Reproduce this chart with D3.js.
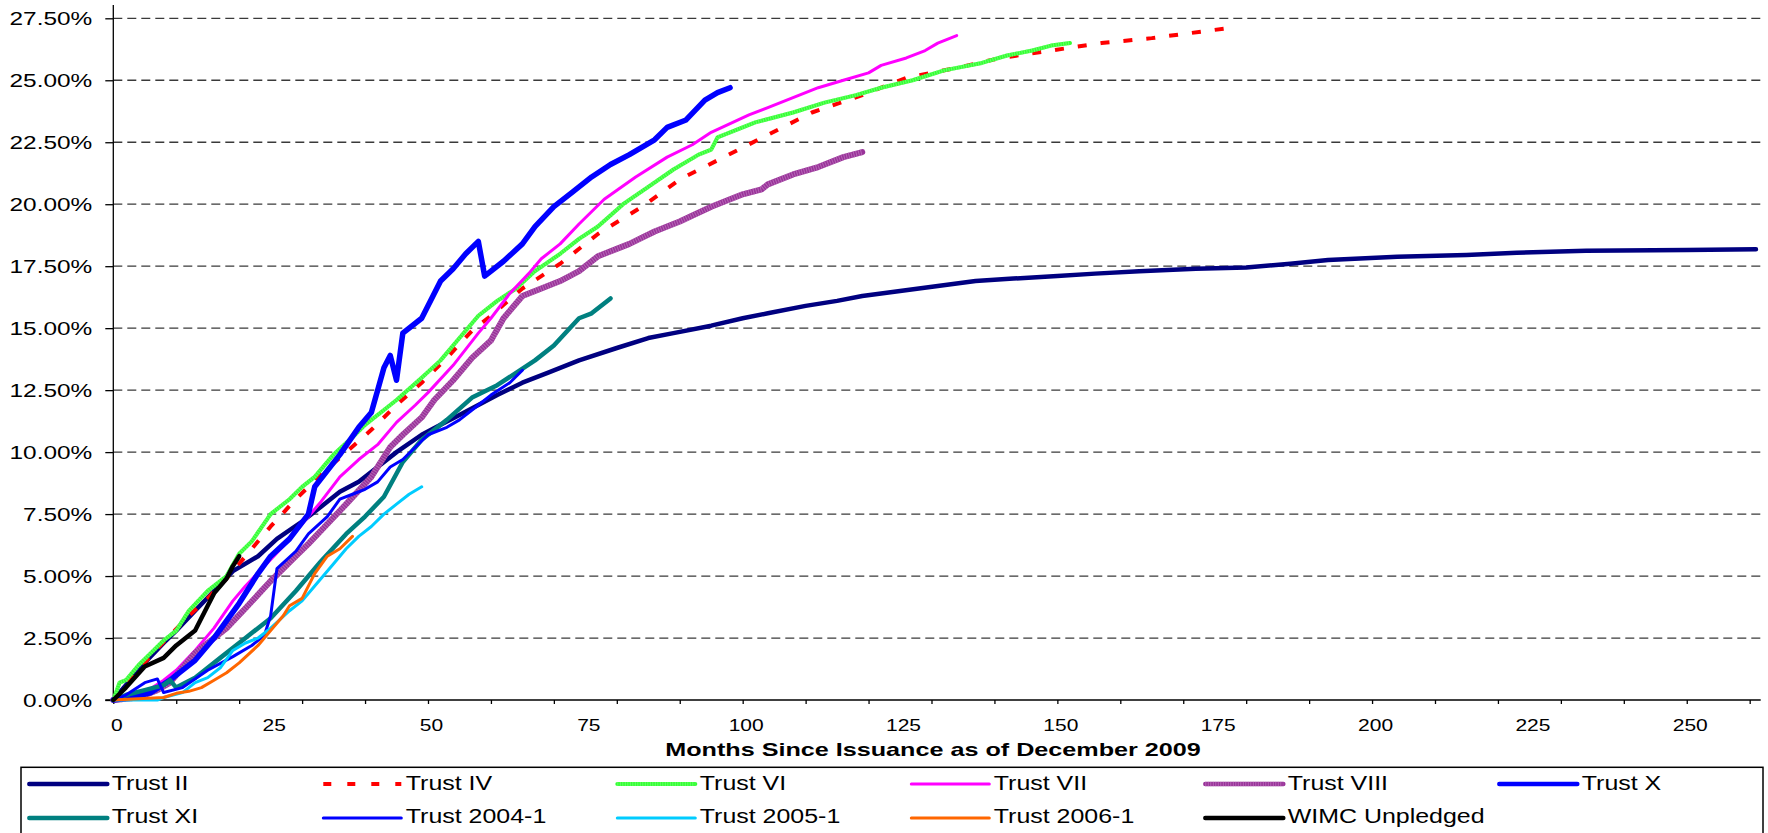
<!DOCTYPE html>
<html>
<head>
<meta charset="utf-8">
<script src="https://cdn.jsdelivr.net/npm/d3@7"></script>
<style>
  html, body { margin: 0; padding: 0; background: #fff; }
  svg { display: block; font-family: "Liberation Sans", Arial, sans-serif; }
</style>
</head>
<body>
<svg id="chart" width="1768" height="833"></svg>
<script>
// ---------- DATA: [month since issuance, cumulative %] ----------
const trustII = [[0,0],[2,0.6],[5,1.5],[8,2.3],[10,2.8],[13,3.6],[16,4.4],[19,5.2],[23,5.8],[26,6.5],[30,7.2],[33,7.8],[36,8.4],[39,8.8],[42,9.4],[45,10.0],[49,10.7],[52,11.1],[55,11.5],[58,11.9],[61,12.3],[65,12.8],[69,13.2],[74,13.7],[80,14.2],[85,14.6],[89,14.8],[95,15.1],[100,15.4],[104,15.6],[110,15.9],[115,16.1],[119,16.3],[125,16.5],[131,16.7],[137,16.9],[143,17.0],[150,17.1],[156,17.2],[163,17.3],[172,17.4],[180,17.45],[187,17.6],[193,17.75],[204,17.88],[215,17.95],[223,18.04],[234,18.12],[250,18.15],[261,18.18]];
const trustIV = [[0,0],[3,0.9],[6,1.8],[9,2.6],[12,3.4],[15,4.1],[18,4.9],[21,5.8],[25,7.0],[29,8.1],[33,9.1],[37,10.0],[41,10.9],[45,11.9],[49,12.8],[53,13.8],[57,14.9],[60,15.5],[65,16.6],[71,17.6],[77,18.8],[84,19.9],[90,21.0],[97,21.9],[104,22.8],[111,23.7],[119,24.4],[126,25.1],[134,25.5],[141,25.9],[149,26.2],[157,26.5],[165,26.7],[171,26.9],[177,27.1]];
const trustVI = [[0,0],[1,0.7],[2,0.8],[4,1.4],[6,1.9],[8,2.4],[10,2.8],[12,3.6],[15,4.4],[18,5.0],[20,5.9],[22,6.4],[25,7.5],[28,8.1],[30,8.6],[32,9.0],[35,9.9],[38,10.6],[40,11.1],[43,11.7],[45,12.1],[49,13.0],[52,13.7],[55,14.6],[58,15.5],[61,16.1],[64,16.6],[67,17.3],[71,18.0],[74,18.6],[77,19.1],[81,20.0],[85,20.7],[89,21.4],[93,22.0],[95,22.2],[96,22.7],[99,23.0],[102,23.3],[108,23.7],[113,24.1],[118,24.4],[122,24.7],[127,25.0],[132,25.4],[138,25.7],[142,26.0],[146,26.2],[149,26.4],[152,26.5]];
const trustVII = [[0,0],[3,0.1],[5,0.3],[8,0.8],[10,1.2],[13,2.0],[16,2.9],[19,4.0],[21,4.6],[24,5.4],[27,6.2],[30,7.1],[33,8.0],[36,9.0],[39,9.7],[42,10.3],[45,11.2],[48,11.9],[50,12.4],[54,13.5],[58,14.8],[60,15.4],[63,16.4],[66,17.2],[68,17.8],[71,18.4],[74,19.2],[78,20.2],[83,21.1],[88,21.9],[92,22.4],[95,22.9],[101,23.6],[104,23.9],[108,24.3],[112,24.7],[116,25.0],[120,25.3],[122,25.6],[126,25.9],[129,26.2],[131,26.5],[134,26.8]];
const trustVIII = [[0,0],[4,0.1],[7,0.4],[9,0.7],[13,1.9],[16,2.5],[18,2.9],[21,3.7],[25,4.8],[29,5.8],[31,6.3],[34,7.1],[37,7.9],[41,9.0],[44,10.2],[46,10.7],[49,11.4],[51,12.1],[54,12.9],[57,13.8],[60,14.5],[62,15.4],[65,16.3],[68,16.6],[71,16.9],[74,17.3],[77,17.9],[82,18.4],[86,18.9],[90,19.3],[95,19.9],[100,20.4],[103,20.6],[104,20.8],[108,21.2],[112,21.5],[116,21.9],[119,22.1]];
const trustX = [[0,0],[3,0.1],[6,0.3],[9,0.8],[13,1.6],[16,2.5],[20,3.9],[23,5.1],[25,5.8],[28,6.5],[31,7.5],[32,8.6],[36,9.9],[39,11.0],[41,11.6],[42,12.5],[43,13.4],[44,13.9],[45,12.9],[46,14.8],[49,15.4],[52,16.9],[54,17.4],[56,18.0],[58,18.5],[59,17.1],[62,17.7],[65,18.4],[67,19.1],[70,19.9],[73,20.5],[76,21.1],[79,21.6],[82,22.0],[86,22.6],[88,23.1],[91,23.4],[94,24.2],[96,24.5],[98,24.7]];
const trustXI = [[0,0],[2,0.2],[5,0.4],[8,0.6],[9,0.8],[10,0.5],[13,0.9],[17,1.7],[21,2.5],[25,3.3],[29,4.4],[33,5.6],[37,6.7],[40,7.4],[43,8.2],[46,9.6],[49,10.5],[53,11.3],[57,12.2],[61,12.7],[64,13.2],[67,13.7],[70,14.3],[74,15.4],[76,15.6],[79,16.2]];
const trust2004 = [[0,0],[2,0.2],[5,0.7],[7,0.85],[8,0.3],[11,0.5],[15,1.2],[19,1.75],[22,2.2],[24,2.6],[25,3.4],[26,5.3],[29,6.0],[31,6.7],[34,7.4],[36,8.1],[38,8.3],[40,8.5],[42,8.8],[44,9.4],[46,9.7],[50,10.7],[53,11.0],[55,11.3],[57,11.7],[60,12.3],[63,12.8],[65,13.3]];
const trust2005 = [[0,0],[7,0],[8,0.1],[11,0.3],[13,0.7],[15,0.9],[17,1.3],[19,2.0],[21,2.3],[23,2.5],[25,2.9],[28,3.6],[30,4.0],[32,4.6],[35,5.5],[37,6.1],[39,6.6],[41,7.0],[43,7.5],[45,7.9],[47,8.3],[49,8.6]];
const trust2006 = [[0,0],[4,0.05],[8,0.1],[10,0.27],[12,0.35],[14,0.5],[16,0.8],[18,1.1],[20,1.5],[23,2.2],[25,2.8],[27,3.4],[28,3.8],[30,4.1],[32,5.1],[34,5.8],[36,6.1],[38,6.6]];
const wimc = [[0,0],[2,0.5],[5,1.35],[8,1.7],[10,2.2],[13,2.8],[15,3.8],[16,4.3],[18,4.9],[19,5.4],[20,5.8]];

const seriesNames = ["Trust II","Trust IV","Trust VI","Trust VII","Trust VIII","Trust X","Trust XI","Trust 2004-1","Trust 2005-1","Trust 2006-1","WIMC Unpledged"];
const seriesData = [trustII, trustIV, trustVI, trustVII, trustVIII, trustX, trustXI, trust2004, trust2005, trust2006, wimc];
const yTicks = [0, 2.5, 5, 7.5, 10, 12.5, 15, 17.5, 20, 22.5, 25, 27.5];
const xLabelTicks = [0, 25, 50, 75, 100, 125, 150, 175, 200, 225, 250];
const xMinorTicks = d3.range(0, 261, 10);
const xTitle = "Months Since Issuance as of December 2009";

// ---------- STYLES ----------
const styles = [
  {color:"#000080", width:4.5},
  {color:"#FF0000", width:4, dash:"9,14"},
  {color:"#33FF33", width:4, over:"#7CFF7C", overDash:"1,1.5"},
  {color:"#FF00FF", width:3},
  {color:"#993399", width:6, over:"#C27BC2", overDash:"1,1.5"},
  {color:"#0000FF", width:5.5},
  {color:"#008080", width:4.5},
  {color:"#0000FF", width:3},
  {color:"#00CCFF", width:3},
  {color:"#FF6600", width:3},
  {color:"#000000", width:4.5}
];

const svg = d3.select("#chart");
const x = d3.scaleLinear().domain([0, 261.75]).range([113.3, 1760.7]);
const y = d3.scaleLinear().domain([0, 27.5]).range([700, 18.3]);

// gridlines
svg.append("g").selectAll("line").data(yTicks.filter(d => d > 0)).join("line")
  .attr("x1", x(0)).attr("x2", x.range()[1])
  .attr("y1", d => y(d)).attr("y2", d => y(d))
  .attr("stroke", "#3a3a3a").attr("stroke-width", 1.3).attr("stroke-dasharray", "9,5");

// y axis
const yAxis = svg.append("g").attr("transform", `translate(${x(0)},0)`)
  .call(d3.axisLeft(y).tickValues(yTicks).tickSize(8).tickSizeOuter(0).tickFormat(d => d.toFixed(2) + "%"));
yAxis.select(".domain").attr("d", `M0,5V${y(0)}`).attr("stroke", "#000").attr("stroke-width", 1.3);
yAxis.selectAll(".tick line").attr("stroke", "#000").attr("stroke-width", 1.3);
yAxis.selectAll(".tick text")
  .attr("x", null).attr("dy", "0.36em")
  .attr("transform", "translate(-21,0) scale(1.38,1)")
  .attr("font-size", 17.7).attr("fill", "#000")
  .attr("font-family", "'Liberation Sans', Arial, sans-serif");

// x axis ticks
const xAxis = svg.append("g").attr("transform", `translate(0,${y(0)})`)
  .call(d3.axisBottom(x).tickValues(xMinorTicks).tickSize(4).tickSizeOuter(0).tickFormat(""));
xAxis.select(".domain").attr("d", `M${x(0) - 8},0H${x.range()[1]}`).attr("stroke", "#000").attr("stroke-width", 1.3);
xAxis.selectAll(".tick line").attr("stroke", "#000").attr("stroke-width", 1.3);

// x axis labels
const xLab = svg.append("g").attr("transform", `translate(0,${y(0)})`)
  .call(d3.axisBottom(x).tickValues(xLabelTicks).tickSize(0).tickPadding(0).tickFormat(d3.format("d")));
xLab.select(".domain").remove();
xLab.selectAll(".tick text")
  .attr("y", null).attr("dy", null)
  .attr("transform", "translate(3,30.5) scale(1.33,1)")
  .attr("font-size", 15.8).attr("fill", "#000")
  .attr("font-family", "'Liberation Sans', Arial, sans-serif");

// x title
svg.append("text")
  .attr("transform", "translate(933,756) scale(1.36,1)")
  .attr("text-anchor", "middle").attr("font-weight", "bold").attr("font-size", 18.5)
  .text(xTitle);

// lines
const line = d3.line().x(d => x(d[0])).y(d => y(d[1]));
const plot = svg.append("g");
seriesData.forEach((data, i) => {
  const s = styles[i];
  plot.append("path").datum(data).attr("d", line)
    .attr("fill", "none").attr("stroke", s.color).attr("stroke-width", s.width)
    .attr("stroke-linejoin", "round").attr("stroke-linecap", s.dash ? "butt" : "round")
    .attr("stroke-dasharray", s.dash || null);
  if (s.over) {
    plot.append("path").datum(data).attr("d", line)
      .attr("fill", "none").attr("stroke", s.over).attr("stroke-width", s.width)
      .attr("stroke-linejoin", "round").attr("stroke-dasharray", s.overDash).attr("opacity", 0.7);
  }
});

// legend
const legend = svg.append("g");
legend.append("rect").attr("x", 21).attr("y", 767.3).attr("width", 1742).attr("height", 120)
  .attr("fill", "none").attr("stroke", "#000").attr("stroke-width", 1.5);
seriesNames.forEach((name, i) => {
  const col = i % 6, row = Math.floor(i / 6);
  const cx = 29.3 + col * 294;
  const ly = row === 0 ? 784 : 818;
  const s = styles[i];
  legend.append("line").attr("x1", cx).attr("x2", cx + 78).attr("y1", ly).attr("y2", ly)
    .attr("stroke", s.color).attr("stroke-width", Math.min(s.width, 4.5))
    .attr("stroke-linecap", s.dash ? "butt" : "round")
    .attr("stroke-dasharray", s.dash ? "8,16" : null);
  if (s.over) {
    legend.append("line").attr("x1", cx).attr("x2", cx + 78).attr("y1", ly).attr("y2", ly)
      .attr("stroke", s.over).attr("stroke-width", Math.min(s.width, 4.5)).attr("stroke-dasharray", s.overDash).attr("opacity", 0.7);
  }
  legend.append("text")
    .attr("transform", `translate(${cx + 82.5},${row === 0 ? 790 : 822.7}) scale(1.28,1)`)
    .attr("font-size", 19.5).attr("fill", "#000").text(name);
});
</script>
</body>
</html>
